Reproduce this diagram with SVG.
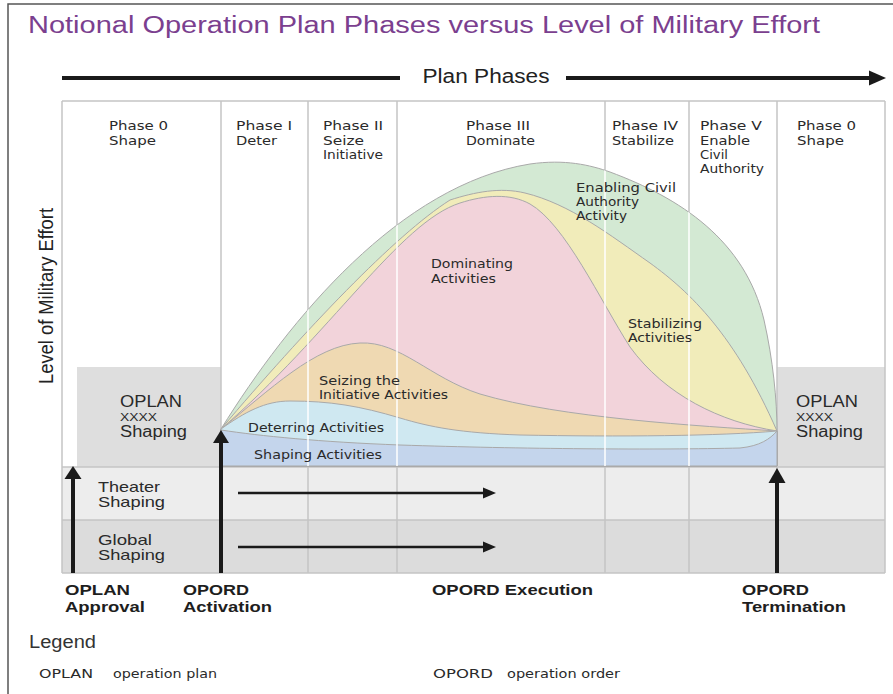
<svg xmlns="http://www.w3.org/2000/svg" width="893" height="694" viewBox="0 0 893 694">
<defs>
<style>
.grid{stroke:#c4c4c4;stroke-width:1.5;fill:none}
.wl{stroke:#ffffff;stroke-width:1.5}
.area{stroke:#a9a9a9;stroke-width:1}
.ph{font-family:"DejaVu Sans",Verdana,sans-serif;font-size:12.5px;fill:#2a2a2a}
.lab{font-family:"DejaVu Sans",Verdana,sans-serif;font-size:12px;fill:#2a2a2a}
.box{font-family:"Liberation Sans",Arial,sans-serif;fill:#2a2a2a}
.row{font-family:"Liberation Sans",Arial,sans-serif;font-size:14.5px;fill:#2a2a2a}
.bot{font-family:"Liberation Sans",Arial,sans-serif;font-size:15.5px;font-weight:bold;fill:#1e1e1e}
.leg{font-family:"DejaVu Sans",Verdana,sans-serif;font-size:12px;fill:#2a2a2a}
.arr{stroke:#1a1a1a;fill:none}
.head{fill:#1a1a1a}
</style>
<clipPath id="clipArea">
<path d="M221,429 C290,318 400,185 530,164 C565,159 590,165 610,172 C680,198 745,240 764,320 C773,360 777,400 777,431 L777,466 L221,466 Z"/>
</clipPath>
</defs>
<rect x="0" y="0" width="893" height="694" fill="#ffffff"/>
<rect x="8" y="4" width="895" height="700" fill="none" stroke="#555" stroke-width="1.5"/>
<text x="28" y="33" font-family="'Liberation Sans',Arial,sans-serif" font-size="23" fill="#7b3f8f" textLength="792" lengthAdjust="spacingAndGlyphs">Notional Operation Plan Phases versus Level of Military Effort</text>
<text x="486" y="83" text-anchor="middle" font-family="'Liberation Sans',Arial,sans-serif" font-size="20" fill="#222" textLength="127" lengthAdjust="spacingAndGlyphs">Plan Phases</text>
<text transform="translate(53,296) rotate(-90)" text-anchor="middle" font-family="'Liberation Sans',Arial,sans-serif" font-size="20" fill="#222" textLength="176" lengthAdjust="spacingAndGlyphs">Level of Military Effort</text>

<g id="grid">
<rect x="62" y="467" width="823" height="53" fill="#ededed"/>
<rect x="62" y="520" width="823" height="53" fill="#dcdcdc"/>
<rect x="77" y="367" width="144" height="100" fill="#dedede"/>
<rect x="777" y="367" width="108" height="100" fill="#dedede"/>
<line class="grid" x1="62" y1="101" x2="885" y2="101"/>
<line class="grid" x1="62" y1="467" x2="885" y2="467"/>
<line class="grid" x1="62" y1="520" x2="885" y2="520"/>
<line class="grid" x1="62" y1="573" x2="885" y2="573"/>
<line class="grid" x1="62" y1="101" x2="62" y2="573"/>
<line class="grid" x1="221" y1="101" x2="221" y2="573"/>
<line class="grid" x1="308" y1="101" x2="308" y2="573"/>
<line class="grid" x1="397" y1="101" x2="397" y2="573"/>
<line class="grid" x1="605" y1="101" x2="605" y2="573"/>
<line class="grid" x1="689" y1="101" x2="689" y2="573"/>
<line class="grid" x1="777" y1="101" x2="777" y2="573"/>
<line class="grid" x1="885" y1="101" x2="885" y2="573"/>
</g>

<g id="phase0a"><text class="ph" x="109" y="130" textLength="59" lengthAdjust="spacingAndGlyphs">Phase 0</text><text class="ph" x="109" y="145" textLength="47" lengthAdjust="spacingAndGlyphs">Shape</text></g>
<g id="phase1"><text class="ph" x="236" y="130" textLength="56" lengthAdjust="spacingAndGlyphs">Phase I</text><text class="ph" x="236" y="145" textLength="41" lengthAdjust="spacingAndGlyphs">Deter</text></g>
<g id="phase2"><text class="ph" x="323" y="130" textLength="60" lengthAdjust="spacingAndGlyphs">Phase II</text><text class="ph" x="323" y="145" textLength="41" lengthAdjust="spacingAndGlyphs">Seize</text><text class="ph" x="323" y="159" textLength="60" lengthAdjust="spacingAndGlyphs">Initiative</text></g>
<g id="phase3"><text class="ph" x="466" y="130" textLength="64" lengthAdjust="spacingAndGlyphs">Phase III</text><text class="ph" x="466" y="145" textLength="69" lengthAdjust="spacingAndGlyphs">Dominate</text></g>
<g id="phase4"><text class="ph" x="612" y="130" textLength="66" lengthAdjust="spacingAndGlyphs">Phase IV</text><text class="ph" x="612" y="145" textLength="62" lengthAdjust="spacingAndGlyphs">Stabilize</text></g>
<g id="phase5"><text class="ph" x="700" y="130" textLength="62" lengthAdjust="spacingAndGlyphs">Phase V</text><text class="ph" x="700" y="145" textLength="50" lengthAdjust="spacingAndGlyphs">Enable</text><text class="ph" x="700" y="159" textLength="28" lengthAdjust="spacingAndGlyphs">Civil</text><text class="ph" x="700" y="173" textLength="64" lengthAdjust="spacingAndGlyphs">Authority</text></g>
<g id="phase0b"><text class="ph" x="797" y="130" textLength="59" lengthAdjust="spacingAndGlyphs">Phase 0</text><text class="ph" x="797" y="145" textLength="47" lengthAdjust="spacingAndGlyphs">Shape</text></g>

<g id="areas">
<path id="enabling" class="area" fill="#d3e9d3" d="M221,429 C290,318 400,185 530,164 C565,159 590,165 610,172 C680,198 745,240 764,320 C773,360 777,400 777,431 L777,466 L221,466 Z"/>
<path id="stabilizing" class="area" fill="#f1ecba" d="M221,429 C305,330 395,235 450,200 C475,192 500,187 525,193 C570,204 610,235 650,263 C690,292 735,335 777,431 L777,466 L221,466 Z"/>
<path id="dominating" class="area" fill="#f2d3da" d="M221,429 C330,335 400,222 460,203 C485,195 510,193 530,204 C565,224 600,300 630,347 C665,395 720,422 777,431 L777,466 L221,466 Z"/>
<path id="seizing" class="area" fill="#efd9b2" d="M221,429 C270,390 315,345 360,343 C400,341 430,378 480,394 C560,418 700,426 777,431 L777,466 L221,466 Z"/>
<path id="deterring" class="area" fill="#cfe8f1" d="M221,429 C245,412 265,401 290,401 C330,401 360,406 400,418 C430,427 460,433 520,435 C620,437 720,436 777,431 L777,466 L221,466 Z"/>
<path id="shaping" class="area" fill="#c4d5ec" d="M221,430 C260,436 320,442 400,445 C520,449 660,450 740,448 C760,446 770,439 777,431 L777,466 L221,466 Z"/>
<g clip-path="url(#clipArea)">
<line class="wl" x1="308" y1="101" x2="308" y2="466"/>
<line class="wl" x1="397" y1="101" x2="397" y2="466"/>
<line class="wl" x1="605" y1="101" x2="605" y2="466"/>
<line class="wl" x1="689" y1="101" x2="689" y2="466"/>
</g>
</g>

<g id="labels">
<text class="lab" x="576" y="192" textLength="100" lengthAdjust="spacingAndGlyphs">Enabling Civil</text><text class="lab" x="576" y="206" textLength="63" lengthAdjust="spacingAndGlyphs">Authority</text><text class="lab" x="576" y="220" textLength="51" lengthAdjust="spacingAndGlyphs">Activity</text>
<text class="lab" x="431" y="268" textLength="82" lengthAdjust="spacingAndGlyphs">Dominating</text><text class="lab" x="431" y="283" textLength="65" lengthAdjust="spacingAndGlyphs">Activities</text>
<text class="lab" x="628" y="328" textLength="74" lengthAdjust="spacingAndGlyphs">Stabilizing</text><text class="lab" x="628" y="342" textLength="64" lengthAdjust="spacingAndGlyphs">Activities</text>
<text class="lab" x="319" y="385" textLength="81" lengthAdjust="spacingAndGlyphs">Seizing the</text><text class="lab" x="319" y="399" textLength="129" lengthAdjust="spacingAndGlyphs">Initiative Activities</text>
<text class="lab" x="248" y="432" textLength="136" lengthAdjust="spacingAndGlyphs">Deterring Activities</text>
<text class="lab" x="254" y="459" textLength="128" lengthAdjust="spacingAndGlyphs">Shaping Activities</text>
</g>

<g id="oplanLeft"><text class="box" x="120" y="407" font-size="16" textLength="62" lengthAdjust="spacingAndGlyphs">OPLAN</text><text class="box" x="120" y="421" font-size="11" textLength="37" lengthAdjust="spacingAndGlyphs">XXXX</text><text class="box" x="120" y="437" font-size="16" textLength="67" lengthAdjust="spacingAndGlyphs">Shaping</text></g>
<g id="oplanRight"><text class="box" x="796" y="407" font-size="16" textLength="62" lengthAdjust="spacingAndGlyphs">OPLAN</text><text class="box" x="796" y="421" font-size="11" textLength="37" lengthAdjust="spacingAndGlyphs">XXXX</text><text class="box" x="796" y="437" font-size="16" textLength="67" lengthAdjust="spacingAndGlyphs">Shaping</text></g>

<g id="theater"><text class="row" x="98" y="492" textLength="62" lengthAdjust="spacingAndGlyphs">Theater</text><text class="row" x="98" y="507" textLength="67" lengthAdjust="spacingAndGlyphs">Shaping</text></g>
<g id="global"><text class="row" x="98" y="545" textLength="54" lengthAdjust="spacingAndGlyphs">Global</text><text class="row" x="98" y="560" textLength="67" lengthAdjust="spacingAndGlyphs">Shaping</text></g>

<g id="connectors">
<line class="arr" stroke-width="4" x1="62" y1="78" x2="400" y2="78"/>
<line class="arr" stroke-width="4" x1="566" y1="78" x2="872" y2="78"/>
<polygon class="head" points="869,70.5 886,78 869,85.5"/>
<line class="arr" stroke-width="2.5" x1="238" y1="493" x2="486" y2="493"/>
<polygon class="head" points="483,487.5 496,493 483,498.5"/>
<line class="arr" stroke-width="2.5" x1="238" y1="547" x2="486" y2="547"/>
<polygon class="head" points="483,541.5 496,547 483,552.5"/>
<line class="arr" stroke-width="4" x1="73" y1="476" x2="73" y2="573"/>
<polygon class="head" points="64.5,479 73,466 81.5,479"/>
<line class="arr" stroke-width="4" x1="221" y1="440" x2="221" y2="573"/>
<polygon class="head" points="213,443 221,430 229,443"/>
<line class="arr" stroke-width="4" x1="777" y1="480" x2="777" y2="573"/>
<polygon class="head" points="768.5,483 777,468 785.5,483"/>
</g>

<g id="milestones">
<text class="bot" x="65" y="595" textLength="65" lengthAdjust="spacingAndGlyphs">OPLAN</text><text class="bot" x="65" y="612" textLength="80" lengthAdjust="spacingAndGlyphs">Approval</text>
<text class="bot" x="183" y="595" textLength="66" lengthAdjust="spacingAndGlyphs">OPORD</text><text class="bot" x="183" y="612" textLength="89" lengthAdjust="spacingAndGlyphs">Activation</text>
<text class="bot" x="432" y="595" textLength="161" lengthAdjust="spacingAndGlyphs">OPORD Execution</text>
<text class="bot" x="742" y="595" textLength="67" lengthAdjust="spacingAndGlyphs">OPORD</text><text class="bot" x="742" y="612" textLength="104" lengthAdjust="spacingAndGlyphs">Termination</text>
</g>

<g id="legend">
<text x="29" y="648" font-family="'Liberation Sans',Arial,sans-serif" font-size="18" fill="#333" textLength="67" lengthAdjust="spacingAndGlyphs">Legend</text>
<text class="leg" x="39" y="678" textLength="54" lengthAdjust="spacingAndGlyphs">OPLAN</text><text class="leg" x="113" y="678" textLength="104" lengthAdjust="spacingAndGlyphs">operation plan</text>
<text class="leg" x="433" y="678" textLength="60" lengthAdjust="spacingAndGlyphs">OPORD</text><text class="leg" x="507" y="678" textLength="113" lengthAdjust="spacingAndGlyphs">operation order</text>
</g>
</svg>
